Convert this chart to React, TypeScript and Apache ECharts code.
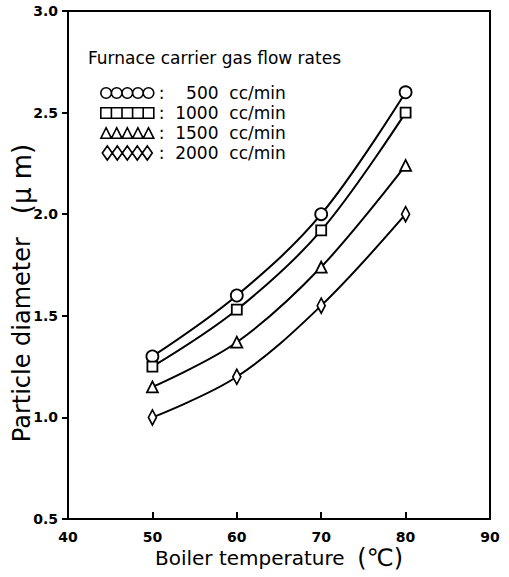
import React, { useEffect, useRef } from "react";
import * as echarts from "echarts";

const temperatures = [50, 60, 70, 80];
const flowRates = ["500", "1000", "1500", "2000"];
const d500 = [1.3, 1.6, 2.0, 2.6];
const d1000 = [1.25, 1.53, 1.92, 2.5];
const d1500 = [1.15, 1.37, 1.74, 2.24];
const d2000 = [1.0, 1.2, 1.55, 2.0];
const yTicks = [0.5, 1.0, 1.5, 2.0, 2.5, 3.0];
const xTicks = [40, 50, 60, 70, 80, 90];

const FONT = "DejaVu Sans";

const circles = "path://" + [0, 1, 2, 3, 4].map((i) => `M${i * 10},5a5,5 0 1,0 10,0a5,5 0 1,0 -10,0Z`).join(" ");
const squares = "path://M0,0H50V10H0Z M10,0V10 M20,0V10 M30,0V10 M40,0V10";
const triangles = "path://M0,10H50 " + [0, 1, 2, 3, 4].map((i) => `M${i * 10},10L${i * 10 + 5},0L${i * 10 + 10},10Z`).join(" ");
const diamonds = "path://" + [0, 1, 2, 3, 4].map((i) => `M${i * 10 + 5},0L${i * 10 + 10},7L${i * 10 + 5},14L${i * 10},7Z`).join(" ");

export default function App() {
  const ref = useRef<HTMLDivElement>(null);
  useEffect(() => {
    const chart = echarts.init(ref.current!, undefined, { renderer: "svg" });
    const sets = [d500, d1000, d1500, d2000];
    const symbols: any[] = ["circle", "rect", "triangle", "diamond"];
    const sizes: any[] = [12, 10, 11, [8, 15]];
    const icons = [circles, squares, triangles, diamonds];
    const series = sets.map((vals, i) => ({
      name: flowRates[i],
      type: "line",
      smooth: 0.35,
      data: temperatures.map((t, j) => [t, vals[j]]),
      symbol: symbols[i],
      symbolSize: sizes[i],
      showAllSymbol: true,
      lineStyle: { color: "#000", width: 2 },
      itemStyle: { color: "#fff", borderColor: "#000", borderWidth: 1.8 },
      z: 3,
    }));
    chart.setOption({
      animation: false,
      backgroundColor: "#fff",
      title: {
        text: "Furnace carrier gas flow rates",
        left: 88,
        top: 49,
        padding: 0,
        textStyle: { fontFamily: FONT, fontSize: 17, fontWeight: "normal", color: "#000" },
      },
      legend: {
        orient: "vertical",
        left: 100,
        top: 83,
        padding: 0,
        itemGap: 0,
        itemWidth: 53,
        itemHeight: 14,
        selectedMode: false,
        itemStyle: { color: "#fff", borderColor: "#000", borderWidth: 1.6 },
        data: flowRates.map((f, i) => ({ name: f, icon: icons[i] })),
        formatter: (name: string) => `{c|:}{t|${name}  cc/min}`,
        textStyle: {
          fontFamily: FONT,
          fontSize: 17,
          color: "#000",
          lineHeight: 20,
          rich: {
            c: { fontFamily: FONT, fontSize: 17, width: 9, lineHeight: 20 },
            t: { fontFamily: FONT, fontSize: 17, width: 118, align: "right", lineHeight: 20 },
          },
        },
      },
      grid: {
        left: 68,
        right: 19,
        top: 11,
        bottom: 58,
        containLabel: false,
        outerBoundsMode: "none",
        show: true,
        borderColor: "#000",
        borderWidth: 2,
        backgroundColor: "transparent",
      },
      xAxis: {
        type: "value",
        min: xTicks[0],
        max: xTicks[xTicks.length - 1],
        interval: 10,
        splitLine: { show: false },
        axisLine: { lineStyle: { color: "#000", width: 2 } },
        axisTick: { inside: true, length: 7, lineStyle: { color: "#000", width: 2 } },
        axisLabel: { fontFamily: FONT, fontSize: 14, fontWeight: "bold", color: "#000", margin: 11 },
        name: "Boiler temperature  {u|(℃)}",
        nameLocation: "middle",
        nameGap: 27,
        nameMoveOverlap: false,
        nameTextStyle: {
          fontFamily: FONT,
          fontSize: 20,
          color: "#000",
          rich: { u: { fontFamily: FONT, fontSize: 24, color: "#000" } },
        },
      },
      yAxis: {
        type: "value",
        min: yTicks[0],
        max: yTicks[yTicks.length - 1],
        interval: 0.5,
        splitLine: { show: false },
        axisLine: { lineStyle: { color: "#000", width: 2 } },
        axisTick: { inside: false, length: 6, lineStyle: { color: "#000", width: 2 } },
        axisLabel: {
          fontFamily: FONT,
          fontSize: 14,
          fontWeight: "bold",
          color: "#000",
          margin: 10,
          formatter: (v: number) => v.toFixed(1),
        },
        name: "Particle diameter   {u|(μ m)}",
        nameLocation: "middle",
        nameGap: 33,
        nameMoveOverlap: false,
        nameTextStyle: {
          fontFamily: FONT,
          fontSize: 24,
          color: "#000",
          padding: [0, 56, 0, 0],
          rich: { u: { fontFamily: FONT, fontSize: 26, color: "#000" } },
        },
      },
      series,
    });
    return () => chart.dispose();
  }, []);
  return <div ref={ref} style={{ width: 509, height: 577, position: "absolute", left: 0, top: 0 }} />;
}
